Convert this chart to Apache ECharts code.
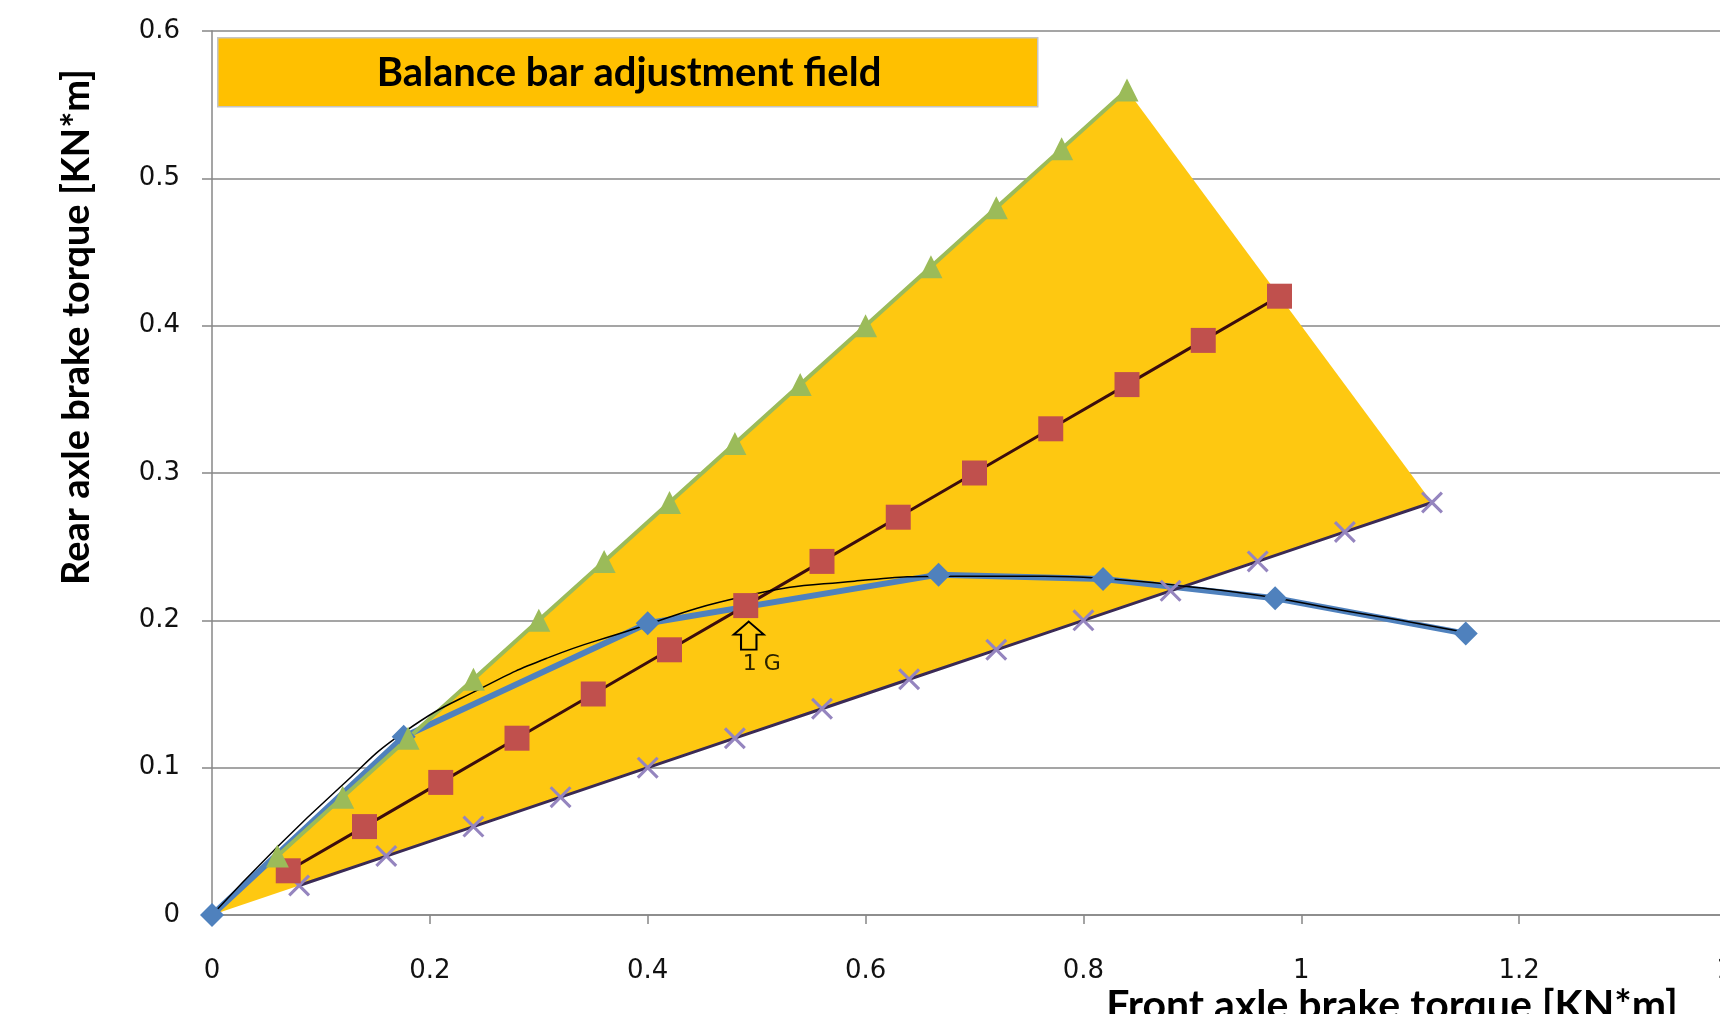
<!DOCTYPE html>
<html>
<head>
<meta charset="utf-8">
<script src="https://cdn.jsdelivr.net/npm/echarts@6/dist/echarts.min.js"></script>
<style>
html, body { margin: 0; padding: 0; background: #fff; }
#chart { width: 1720px; height: 1014px; }
</style>
</head>
<body>
<div id="chart"></div>
<script>
// adjustment field (triangle between the two limit lines)
const fieldPoly = [[0, 0], [0.84, 0.56], [1.12, 0.28]];

// upper limit line (green triangles)
const upperLimit = [
    [0.06, 0.04], [0.12, 0.08], [0.18, 0.12], [0.24, 0.16], [0.30, 0.20], [0.36, 0.24], [0.42, 0.28],
    [0.48, 0.32], [0.54, 0.36], [0.60, 0.40], [0.66, 0.44], [0.72, 0.48], [0.78, 0.52], [0.84, 0.56]
];

// nominal balance line (red squares)
const nominal = [
    [0.07, 0.03], [0.14, 0.06], [0.21, 0.09], [0.28, 0.12], [0.35, 0.15], [0.42, 0.18], [0.49, 0.21],
    [0.56, 0.24], [0.63, 0.27], [0.70, 0.30], [0.77, 0.33], [0.84, 0.36], [0.91, 0.39], [0.98, 0.42]
];

// lower limit line (purple crosses)
const lowerLimit = [
    [0.08, 0.02], [0.16, 0.04], [0.24, 0.06], [0.32, 0.08], [0.40, 0.10], [0.48, 0.12], [0.56, 0.14],
    [0.64, 0.16], [0.72, 0.18], [0.80, 0.20], [0.88, 0.22], [0.96, 0.24], [1.04, 0.26], [1.12, 0.28]
];

// ideal distribution (blue diamonds)
const ideal = [
    [0, 0], [0.176, 0.121], [0.40, 0.198], [0.667, 0.231], [0.818, 0.228], [0.976, 0.215], [1.151, 0.191]
];

// trend curve through the ideal points (thin black)
const idealTrend = [
    [0, 0], [0.057, 0.044], [0.118, 0.087], [0.176, 0.124], [0.25, 0.155], [0.31, 0.175], [0.37, 0.19],
    [0.49, 0.2165], [0.59, 0.2266], [0.684, 0.23], [0.764, 0.23], [0.825, 0.228], [0.895, 0.223],
    [0.965, 0.2165], [1.036, 0.207], [1.091, 0.2], [1.16, 0.1906]
];

const oneG = [0.49, 0.21];

const xTicks = { min: 0, max: 1.4, interval: 0.2 };
const yTicks = { min: 0, max: 0.6, interval: 0.1 };

const labelFont = 'DejaVu Sans';
const titleFont = 'Lato';

const chart = echarts.init(document.getElementById('chart'));

chart.setOption({
    animation: false,
    grid: { left: 212, right: -17, top: 31, bottom: 99, containLabel: false, outerBoundsMode: 'none' },
    xAxis: {
        type: 'value',
        min: xTicks.min, max: xTicks.max, interval: xTicks.interval,
        axisLine: { show: true, lineStyle: { color: '#878787', width: 1.5 } },
        axisTick: { show: true, length: 9, lineStyle: { color: '#878787', width: 1.5 } },
        splitLine: { show: false },
        axisLabel: { margin: 43, fontSize: 26, fontFamily: labelFont, color: '#111' }
    },
    yAxis: {
        type: 'value',
        min: yTicks.min, max: yTicks.max, interval: yTicks.interval,
        axisLine: { show: true, lineStyle: { color: '#878787', width: 1.5 } },
        axisTick: { show: true, length: 10, lineStyle: { color: '#878787', width: 1.5 } },
        splitLine: { show: true, lineStyle: { color: '#878787', width: 1.5 } },
        axisLabel: { margin: 32, fontSize: 26, fontFamily: labelFont, color: '#111' }
    },
    graphic: [
        {
            type: 'rect', left: 217, top: 37,
            shape: { width: 820, height: 69 },
            style: { fill: '#FFC000', stroke: '#C4C4C4', lineWidth: 1.5 }
        },
        {
            type: 'text', x: 629, y: 73,
            style: {
                text: 'Balance bar adjustment field', align: 'center', verticalAlign: 'middle',
                fontSize: 40, fontWeight: 'bold', fontFamily: titleFont, fill: '#000'
            }
        },
        {
            type: 'text', x: 77, y: 327, rotation: Math.PI / 2,
            style: {
                text: 'Rear axle brake torque [KN*m]', align: 'center', verticalAlign: 'middle',
                fontSize: 38, fontWeight: 'bold', fontFamily: titleFont, fill: '#000'
            }
        },
        {
            type: 'text', x: 1392, y: 985,
            style: {
                text: 'Front axle brake torque [KN*m]', align: 'center', verticalAlign: 'top',
                fontSize: 41, fontWeight: 'bold', fontFamily: titleFont, fill: '#000'
            }
        }
    ],
    series: [
        {
            name: 'Balance bar adjustment field',
            type: 'custom',
            data: [[0, 0]],
            silent: true,
            renderItem: (params, api) => ({
                type: 'polygon',
                shape: { points: fieldPoly.map((p) => api.coord(p)) },
                style: { fill: '#FEC811' }
            })
        },
        {
            name: 'Ideal',
            type: 'line',
            data: ideal,
            symbol: 'diamond',
            symbolSize: 24,
            itemStyle: { color: '#4F81BD' },
            lineStyle: { color: '#4F81BD', width: 6 }
        },
        {
            name: 'Lower limit',
            type: 'line',
            data: lowerLimit,
            symbol: 'path://M0,1 L1,0 L10,9 L9,10 Z M9,0 L10,1 L1,10 L0,9 Z',
            symbolSize: 22,
            itemStyle: { color: '#9585BF' },
            lineStyle: { color: '#3a2a55', width: 3 }
        },
        {
            name: 'Nominal',
            type: 'line',
            data: nominal,
            symbol: 'rect',
            symbolSize: 25,
            itemStyle: { color: '#C0504D' },
            lineStyle: { color: '#3c0d0d', width: 3 },
            markPoint: {
                data: [{ coord: oneG }],
                symbol: 'path://M16.5,0 L33,13 L25,13 L25,28 L8,28 L8,13 L0,13 Z',
                symbolSize: [30, 28],
                symbolOffset: [3, 30],
                itemStyle: { color: 'rgba(0,0,0,0)', borderColor: '#000', borderWidth: 2 },
                label: {
                    show: true, formatter: '1 G', position: 'bottom', distance: 3, offset: [13, 0],
                    fontSize: 22, fontFamily: labelFont, color: '#2b2200'
                }
            }
        },
        {
            name: 'Upper limit',
            type: 'line',
            data: upperLimit,
            symbol: 'triangle',
            symbolSize: 23,
            itemStyle: { color: '#9BBB59' },
            lineStyle: { color: '#9BBB59', width: 4 }
        },
        {
            name: 'Ideal trend',
            type: 'line',
            data: idealTrend,
            smooth: true,
            showSymbol: false,
            lineStyle: { color: '#000', width: 1.5 }
        }
    ]
});
</script>
</body>
</html>
